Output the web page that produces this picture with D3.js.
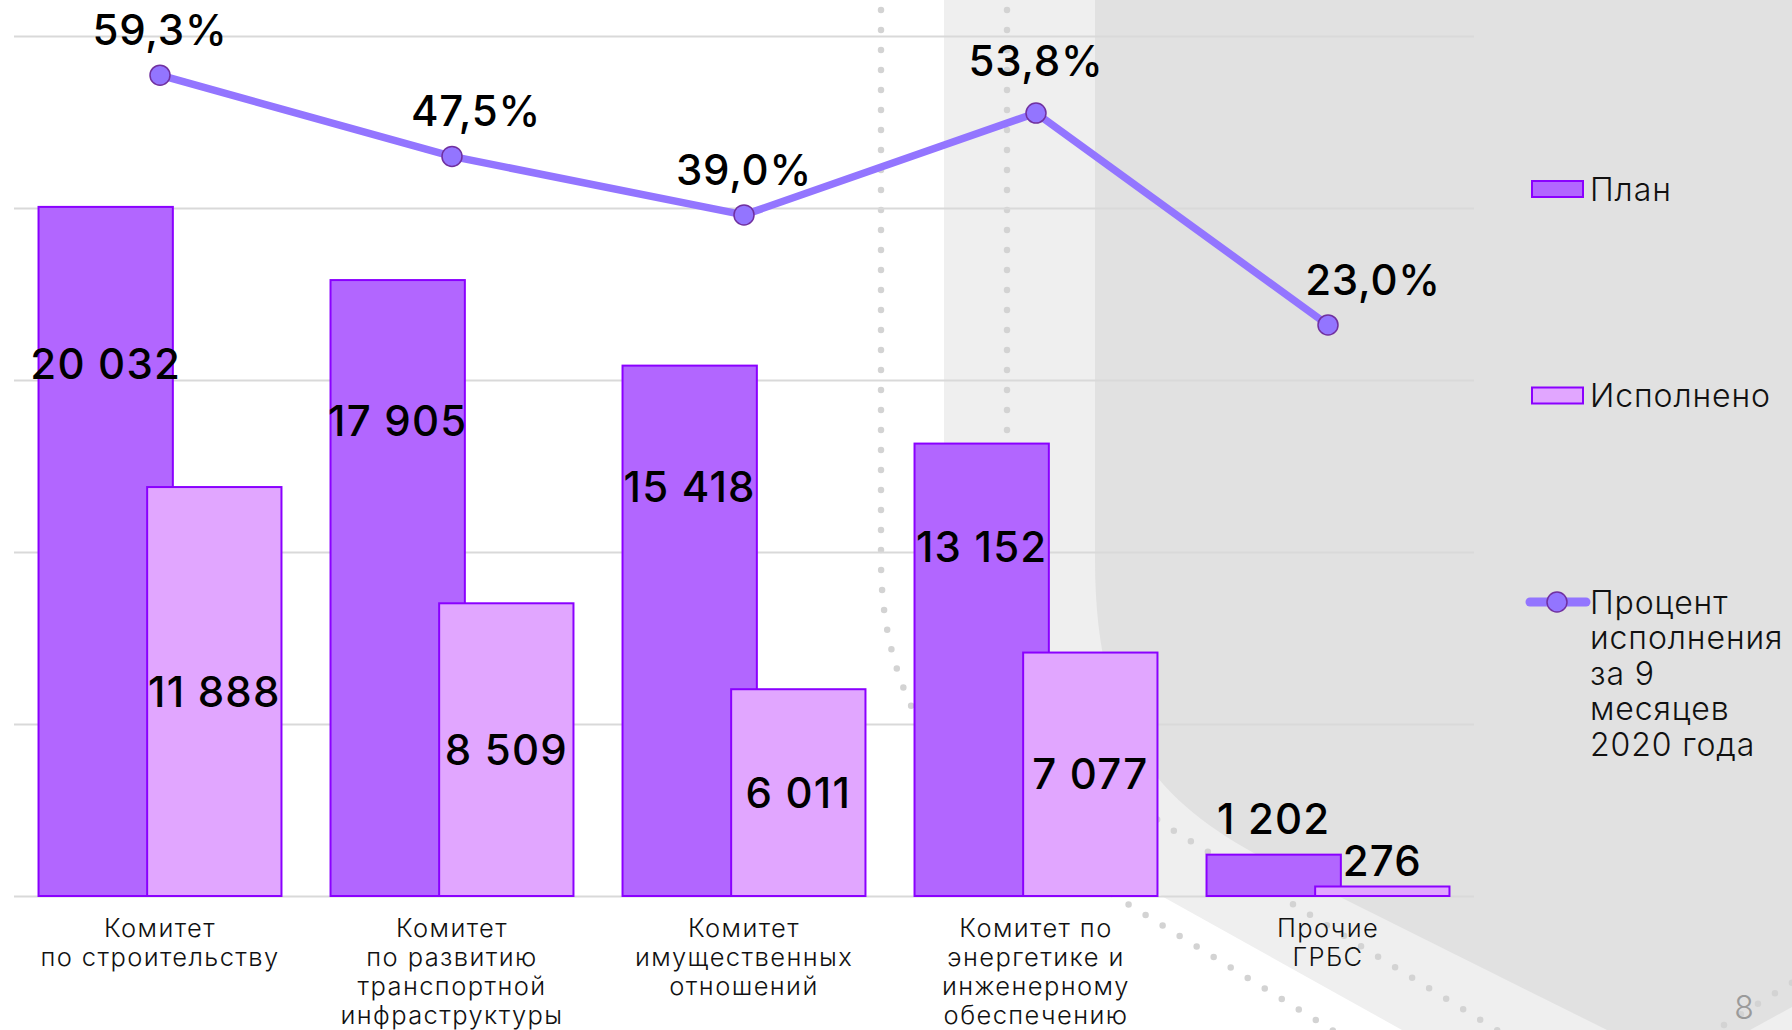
<!DOCTYPE html>
<html>
<head>
<meta charset="utf-8">
<script src="https://cdn.jsdelivr.net/npm/d3@7"></script>
<style>
  body { margin: 0; background: #fff; }
  svg { display: block; font-family: Inter, "Open Sans", sans-serif; }
</style>
</head>
<body>
<script>
//chart data
var categories = [
    "Комитет\nпо строительству",
    "Комитет\nпо развитию\nтранспортной\nинфраструктуры",
    "Комитет\nимущественных\nотношений",
    "Комитет по\nэнергетике и\nинженерному\nобеспечению",
    "Прочие\nГРБС"
];
var planValues = [20032, 17905, 15418, 13152, 1202];
var doneValues = [11888, 8509, 6011, 7077, 276];
var percentValues = [59.3, 47.5, 39.0, 53.8, 23.0];
var valueTicks = [0, 5000, 10000, 15000, 20000, 25000];
var seriesNames = ["План", "Исполнено", "Процент\nисполнения\nза 9\nмесяцев\n2020 года"];

window.onload = setChart();

function setChart(){

    var width = 1792,
        height = 1030;

    var svg = d3.select("body")
        .append("svg")
        .attr("width", width)
        .attr("height", height);

    //slide background: light and dark grey panels
    svg.append("path")
        .attr("d", "M944,0 H1792 V1030 H1402 L944,775 Z")
        .attr("fill", "#efefef");

    svg.append("path")
        .attr("d", "M1095,0 H1792 V1007 L1750,1030 H1607 L1300,877 C1180,818 1095,760 1095,560 Z")
        .attr("fill", "#e1e1e1");

    //dotted decoration lines
    var dots = [
        "M881,-10 V560 C881,700 950,795 1050,856 L1400,1072",
        "M1007,-10 V530 C1007,670 1076,770 1176,832 L1560,1069",
        "M1690,1046 L1830,959"
    ];
    svg.selectAll(".dots")
        .data(dots)
        .enter()
        .append("path")
        .attr("class", "dots")
        .attr("d", function(d){ return d; })
        .attr("fill", "none")
        .attr("stroke", "#d3d3d3")
        .attr("stroke-width", 6.5)
        .attr("stroke-linecap", "round")
        .attr("stroke-dasharray", "0 20");

    //page number
    svg.append("text")
        .attr("x", 1744)
        .attr("y", 1019)
        .attr("text-anchor", "middle")
        .attr("font-size", 32)
        .attr("font-weight", 300)
        .attr("fill", "#9a9a9a")
        .text("8");

    //scales
    var x = d3.scaleBand()
        .domain(categories)
        .range([14, 1474])
        .padding(0);

    var y = d3.scaleLinear()
        .domain([0, 25000])
        .range([896, 36]);

    var yPct = d3.scaleLinear()
        .domain([-60, 65])
        .range([896, 36]);

    var bw = x.bandwidth(),
        barW = bw * 0.46,
        shift = bw * 0.186;

    var ru = d3.formatLocale({decimal: ",", thousands: " ", grouping: [3], currency: ["", ""]});
    var fmtNum = ru.format(",d"),
        fmtPct = ru.format(".1f");

    //gridlines
    var grid = svg.append("g")
        .attr("transform", "translate(14,0)")
        .call(d3.axisLeft(y)
            .tickValues(valueTicks)
            .tickSize(-(1474 - 14))
            .tickFormat(""));
    grid.select(".domain").remove();
    grid.selectAll("line")
        .attr("stroke", "#d9d9d9")
        .attr("stroke-width", 2);

    //bars
    var series = [
        {key: "plan", values: planValues, offset: -shift, fill: "#b266ff"},
        {key: "done", values: doneValues, offset: shift, fill: "#e1a6ff"}
    ];

    series.forEach(function(s){
        svg.selectAll(".bar-" + s.key)
            .data(s.values)
            .enter()
            .append("rect")
            .attr("class", "bar-" + s.key)
            .attr("x", function(d, i){ return x(categories[i]) + bw / 2 + s.offset - barW / 2; })
            .attr("y", function(d){ return y(d); })
            .attr("width", barW)
            .attr("height", function(d){ return y(0) - y(d); })
            .attr("fill", s.fill)
            .attr("stroke", "#8a00ff")
            .attr("stroke-width", 2);
    });

    //bar labels
    series.forEach(function(s){
        svg.selectAll(".lbl-" + s.key)
            .data(s.values)
            .enter()
            .append("text")
            .attr("class", "lbl-" + s.key)
            .attr("x", function(d, i){ return x(categories[i]) + bw / 2 + s.offset; })
            .attr("y", function(d){
                if (d < 3000) return y(d) - (s.key == "plan" ? 36 : 26); //small bars: label above
                if (s.key == "plan") return y(d * 0.772);
                return (y(d) + y(0)) / 2;
            })
            .attr("dy", "0.36em")
            .attr("text-anchor", "middle")
            .attr("font-size", 42)
            .attr("font-weight", 500)
            .attr("letter-spacing", 1.2)
            .attr("fill", "#000")
            .text(function(d){ return fmtNum(d); });
    });

    //category labels
    var cats = svg.selectAll(".cat")
        .data(categories)
        .enter()
        .append("text")
        .attr("class", "cat")
        .attr("text-anchor", "middle")
        .attr("font-size", 25.5)
        .attr("font-weight", 300)
        .attr("letter-spacing", 1.4)
        .attr("fill", "#111");
    cats.selectAll("tspan")
        .data(function(d){ return d.split("\n").map(function(t){ return {t: t, c: d}; }); })
        .enter()
        .append("tspan")
        .attr("x", function(d){ return x(d.c) + bw / 2; })
        .attr("y", function(d, i){ return 937 + i * 29; })
        .text(function(d){ return d.t; });

    //percent line
    var cx = function(d, i){ return x(categories[i]) + bw / 2; };
    var line = d3.line()
        .x(cx)
        .y(function(d){ return yPct(d); });

    svg.append("path")
        .datum(percentValues)
        .attr("d", line)
        .attr("fill", "none")
        .attr("stroke", "#9375ff")
        .attr("stroke-width", 7.5)
        .attr("stroke-linejoin", "round");

    svg.selectAll(".pt")
        .data(percentValues)
        .enter()
        .append("circle")
        .attr("class", "pt")
        .attr("cx", cx)
        .attr("cy", function(d){ return yPct(d); })
        .attr("r", 10)
        .attr("fill", "#9375ff")
        .attr("stroke", "#7030a0")
        .attr("stroke-width", 1.5);

    svg.selectAll(".pct")
        .data(percentValues)
        .enter()
        .append("text")
        .attr("class", "pct")
        .attr("x", function(d, i){
            var prev = percentValues[i - 1], next = percentValues[i + 1];
            //nudge right when the line comes down from the left
            var dx = 0;
            if (prev != null && prev > d && !(next != null && next > d)) dx = next == null ? 45 : 24;
            return cx(d, i) + dx;
        })
        .attr("y", function(d, i){
            var prev = percentValues[i - 1], next = percentValues[i + 1];
            //peaks sit a little higher
            var peak = prev != null && next != null && prev < d && next < d;
            return yPct(d) - (peak ? 37 : 30);
        })
        .attr("text-anchor", "middle")
        .attr("font-size", 42)
        .attr("font-weight", 500)
        .attr("letter-spacing", 0.8)
        .attr("fill", "#000")
        .text(function(d){ return fmtPct(d) + "%"; });

    //legend
    var legend = svg.selectAll(".legend")
        .data(seriesNames)
        .enter()
        .append("g")
        .attr("class", "legend")
        .attr("transform", function(d, i){ return "translate(1532," + (189 + i * 206.5) + ")"; });

    legend.filter(function(d, i){ return i < 2; })
        .append("rect")
        .attr("x", 0)
        .attr("y", -8)
        .attr("width", 51)
        .attr("height", 16)
        .attr("fill", function(d, i){ return series[i].fill; })
        .attr("stroke", "#8a00ff")
        .attr("stroke-width", 2);

    var lg3 = legend.filter(function(d, i){ return i == 2; });
    lg3.append("line")
        .attr("x1", -2).attr("x2", 54)
        .attr("y1", 0).attr("y2", 0)
        .attr("stroke", "#9375ff")
        .attr("stroke-width", 9)
        .attr("stroke-linecap", "round");
    lg3.append("circle")
        .attr("cx", 25)
        .attr("r", 10)
        .attr("fill", "#9375ff")
        .attr("stroke", "#7030a0")
        .attr("stroke-width", 1.5);

    legend.append("text")
        .attr("font-size", 32)
        .attr("font-weight", 300)
        .attr("letter-spacing", 0.9)
        .attr("fill", "#111")
        .selectAll("tspan")
        .data(function(d){ return d.split("\n"); })
        .enter()
        .append("tspan")
        .attr("x", 58)
        .attr("y", function(d, i){ return 11.5 + i * 35.5; })
        .text(function(d){ return d; });
}
</script>
</body>
</html>
